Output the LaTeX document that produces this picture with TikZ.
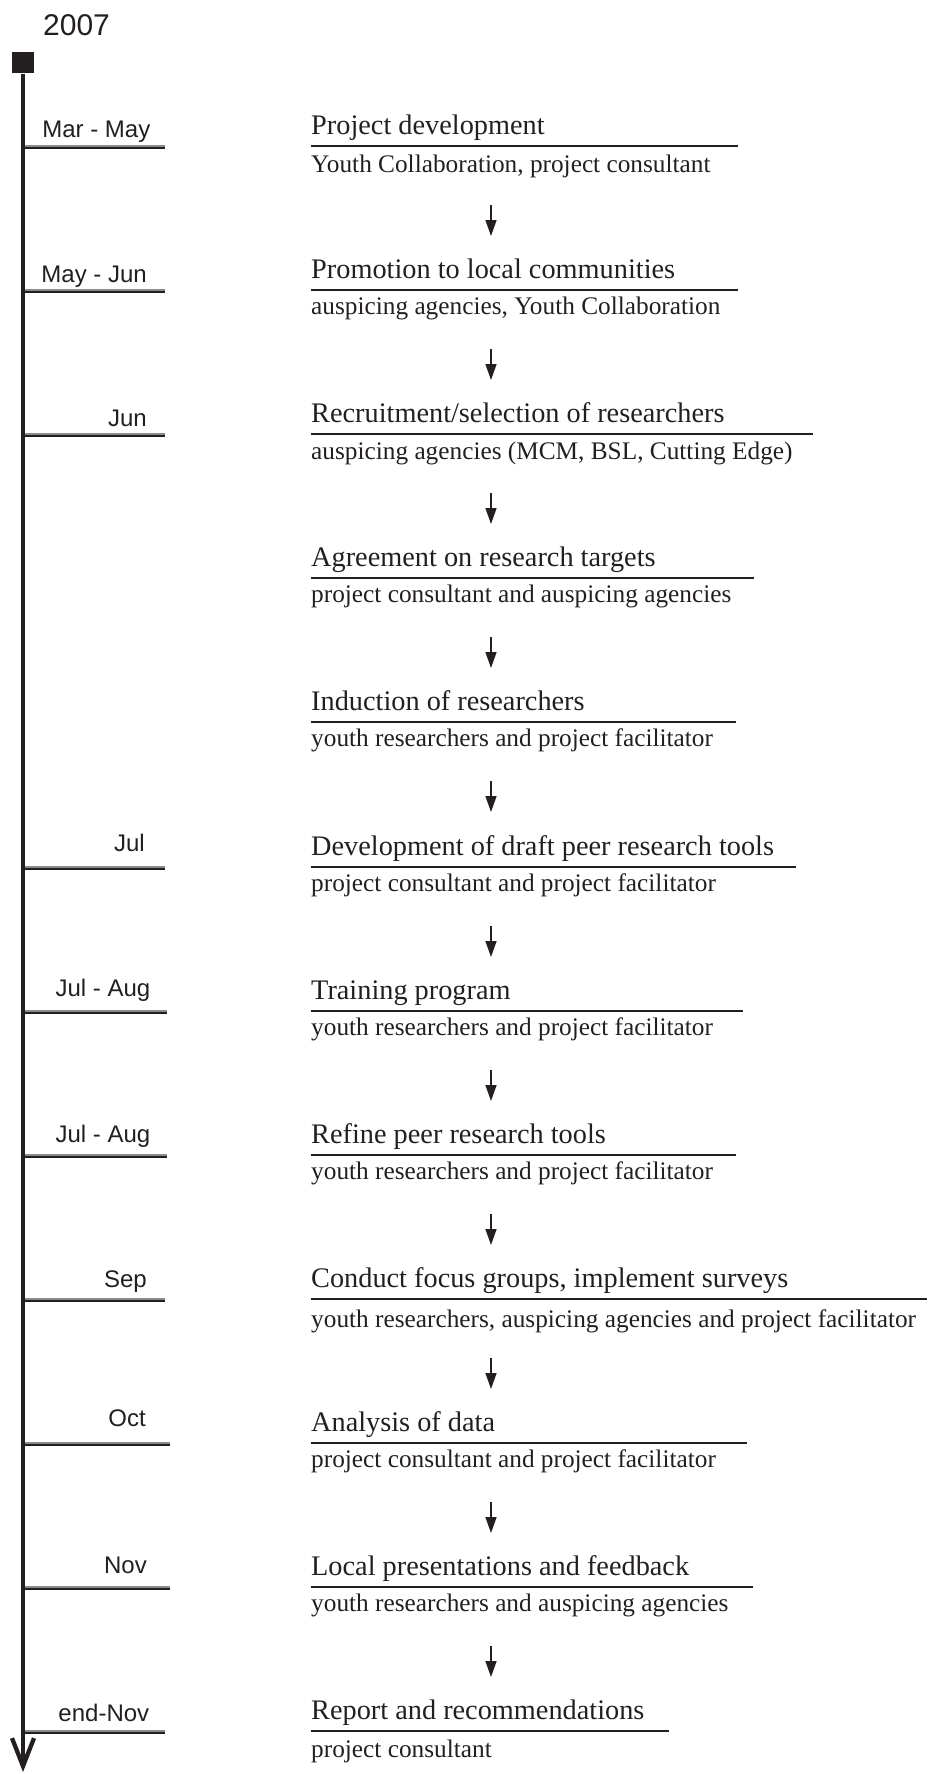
\documentclass[tikz,border=0pt]{standalone}
\usepackage{fontspec}
\setmainfont{Liberation Serif}
\newfontfamily\datefont{Liberation Sans}
\usetikzlibrary{arrows.meta}
\definecolor{dategray}{RGB}{140,140,140}
\definecolor{ink}{RGB}{35,31,32}
\tikzset{
  titletext/.style={anchor=base west, inner sep=0pt, font=\fontsize{28.3}{30}\selectfont, text=ink},
  subtext/.style={anchor=base west, inner sep=0pt, font=\fontsize{25.3}{27}\selectfont, text=ink},
  datetext/.style={anchor=base east, inner sep=0pt, font=\datefont\fontsize{24}{26}\selectfont, text=ink},
  yeartext/.style={anchor=base west, inner sep=0pt, font=\datefont\fontsize{30}{31}\selectfont, text=ink},
  titlerule/.style={line width=2.4pt, draw=ink},
  flowarrow/.style={line width=1.5pt, draw=ink, -{Triangle[length=16pt,width=11pt]}},
  dategrayline/.style={line width=1.7pt, draw=dategray},
  dateblackline/.style={line width=1.4pt, draw=ink},
  timeline/.style={line width=4.3pt, draw=ink, -{Straight Barb[length=28pt,width=22pt]}},
  startbox/.style={fill=ink, minimum size=21.7pt, inner sep=0pt},
}
% #1 name, #2 rule y, #3 rule end x, #4 title, #5 subtitle, #6 extra subtitle offset
\newcommand\tlEntry[6]{%
  \node[titletext] (#1t) at (311,#2-11.5) {#4};
  \node[subtext] (#1s) at (311,#2+24+#6) {#5};
  \coordinate (#1a) at (311,#2);
  \coordinate (#1b) at (#3,#2);
  \draw[titlerule] (#1a) -- (#1b);
}
% #1 name, #2 line y, #3 line end x, #4 text right x, #5 gap, #6 text
\newcommand\tlDate[6]{%
  \node[datetext] (#1) at (#4,#2-#5) {#6};
  \coordinate (#1l) at (25,#2);
  \coordinate (#1r) at (#3,#2);
  \draw[dategrayline] ([yshift=1.1pt]#1l) -- ([yshift=1.1pt]#1r);
  \draw[dateblackline] ([yshift=-1.1pt]#1l) -- ([yshift=-1.1pt]#1r);
}
% #1 name, #2 rule y of the entry above
\newcommand\tlArrow[2]{%
  \coordinate (#1s) at (491,#2+59);
  \coordinate (#1e) at (491,#2+90);
  \draw[flowarrow] (#1s) -- (#1e);
}
\begin{document}
\begin{tikzpicture}[x=1pt,y=-1pt]
\useasboundingbox (0,0) rectangle (927,1774);
\node[yeartext] (year) at (43,36) {2007};
\node[startbox] (sq) at (23,62.5) {};
\coordinate (tlend) at (23,1772);
\draw[timeline] (sq.south) -- (tlend);

\tlEntry{e1}{146}{738}{Project development}{Youth Collaboration, project consultant}{2}
\tlEntry{e2}{290}{738}{Promotion to local communities}{auspicing agencies, Youth Collaboration}{0}
\tlEntry{e3}{434}{813}{Recruitment/selection of researchers}{auspicing agencies (MCM, BSL, Cutting Edge)}{1}
\tlEntry{e4}{578}{754}{Agreement on research targets}{project consultant and auspicing agencies}{0}
\tlEntry{e5}{722}{736}{Induction of researchers}{youth researchers and project facilitator}{0}
\tlEntry{e6}{867}{796}{Development of draft peer research tools}{project consultant and project facilitator}{0}
\tlEntry{e7}{1011}{743}{Training program}{youth researchers and project facilitator}{0}
\tlEntry{e8}{1155}{736}{Refine peer research tools}{youth researchers and project facilitator}{0}
\tlEntry{e9}{1299}{927}{Conduct focus groups, implement surveys}{youth researchers, auspicing agencies and project facilitator}{4}
\tlEntry{e10}{1443}{747}{Analysis of data}{project consultant and project facilitator}{0}
\tlEntry{e11}{1587}{753}{Local presentations and feedback}{youth researchers and auspicing agencies}{0}
\tlEntry{e12}{1731}{669}{Report and recommendations}{project consultant}{2}

\tlArrow{a1}{146}
\tlArrow{a2}{290}
\tlArrow{a3}{434}
\tlArrow{a4}{578}
\tlArrow{a5}{722}
\tlArrow{a6}{867}
\tlArrow{a7}{1011}
\tlArrow{a8}{1155}
\tlArrow{a9}{1299}
\tlArrow{a10}{1443}
\tlArrow{a11}{1587}

\tlDate{d1}{147}{165}{150.5}{10}{Mar - May}
\tlDate{d2}{291}{165}{147}{9}{May - Jun}
\tlDate{d3}{435}{165}{147}{9}{Jun}
\tlDate{d6}{868}{165}{145}{17}{Jul}
\tlDate{d7}{1012}{167}{150.5}{16}{Jul - Aug}
\tlDate{d8}{1156}{167}{150.5}{14}{Jul - Aug}
\tlDate{d9}{1300}{165}{147}{13}{Sep}
\tlDate{d10}{1444}{170}{146}{18}{Oct}
\tlDate{d11}{1588}{170}{147}{15}{Nov}
\tlDate{d12}{1732}{165}{149.4}{11}{end-Nov}
\end{tikzpicture}
\end{document}
